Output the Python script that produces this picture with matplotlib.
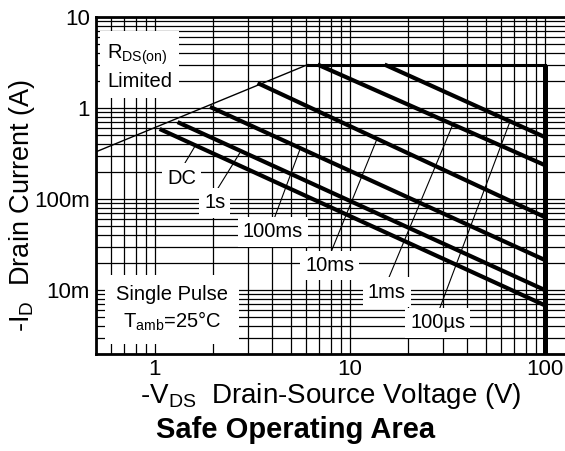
import numpy as np
import matplotlib
matplotlib.use("Agg")
import matplotlib.pyplot as plt
from matplotlib.ticker import FixedLocator, FixedFormatter, LogLocator, NullFormatter

plt.rcParams['font.family'] = ['Liberation Sans', 'DejaVu Sans']
plt.rcParams['mathtext.fontset'] = 'custom'
plt.rcParams['mathtext.rm'] = 'Liberation Sans'
plt.rcParams['mathtext.it'] = 'Liberation Sans:italic'
plt.rcParams['mathtext.bf'] = 'Liberation Sans:bold'
plt.rcParams['mathtext.default'] = 'regular'

# === Data ===
# R_DS(on) limit line (thin)
rds_v = [0.5, 6.1]
rds_i = [0.33, 3.0]

# Pulse-width curves: start point on the limit, end at V = 100 V
pulse_labels = ["DC", "1s", "100ms", "10ms", "1ms", "100µs"]
pulse_v_start = [1.06, 1.31, 1.92, 3.37, 6.85, 15.1]
pulse_i_start = [0.588, 0.70, 1.03, 1.88, 3.0, 3.0]
pulse_v_end = [100, 100, 100, 100, 100, 100]
pulse_i_end = [0.0068, 0.0100, 0.0214, 0.0634, 0.236, 0.48]

# Maximum current / voltage boundary
imax_v = [6.1, 100]
imax_i = [3.0, 3.0]
vmax_v = [100, 100]
vmax_i = [3.0, 0.002]

# Label positions and where the leader lines touch the curves
label_v = [1.375, 2.03, 4.03, 7.89, 15.5, 28.3]
label_i = [0.170, 0.0904, 0.0434, 0.0188, 0.0095, 0.00434]
leader_v = [1.60, 2.73, 5.54, 13.8, 33.7, 66.2]
leader_i = [0.373, 0.32, 0.345, 0.456, 0.65, 0.70]

xticks = [1, 10, 100]
xtick_labels = ["1", "10", "100"]
yticks = [0.01, 0.1, 1, 10]
ytick_labels = ["10m", "100m", "1", "10"]

# === Figure (pixel-matched layout) ===
W, H = 565, 451
fig = plt.figure(figsize=(W / 100, H / 100), dpi=100)
ax_left, ax_top, ax_bottom = 96, 17, 353.6
ax_width = 504
ax = fig.add_axes([ax_left / W, (H - ax_bottom) / H, ax_width / W, (ax_bottom - ax_top) / H])

ax.set_xscale('log')
ax.set_yscale('log')
ax.set_xlim(0.5, 0.5 * 10 ** (ax_width / 195))
ax.set_ylim(2e-3, 10)

# grid
ax.xaxis.set_major_locator(FixedLocator(xticks))
ax.xaxis.set_major_formatter(FixedFormatter(xtick_labels))
ax.yaxis.set_major_locator(FixedLocator(yticks))
ax.yaxis.set_major_formatter(FixedFormatter(ytick_labels))
ax.xaxis.set_minor_locator(LogLocator(base=10, subs=np.arange(2, 10), numticks=20))
ax.yaxis.set_minor_locator(LogLocator(base=10, subs=np.arange(2, 10), numticks=20))
ax.xaxis.set_minor_formatter(NullFormatter())
ax.yaxis.set_minor_formatter(NullFormatter())
ax.grid(True, which='both', color='black', linewidth=0.9)
ax.set_axisbelow(True)
ax.tick_params(which='both', length=0, labelsize=16)
ax.tick_params(axis='x', pad=4)
ax.tick_params(axis='y', pad=4.3)
for s in ax.spines.values():
    s.set_linewidth(2.0)

# curves
ax.plot(rds_v, rds_i, color='black', linewidth=1.0, zorder=3)
for vs, is_, ve, ie in zip(pulse_v_start, pulse_i_start, pulse_v_end, pulse_i_end):
    ax.plot([vs, ve], [is_, ie], color='black', linewidth=3.0, zorder=3,
            solid_capstyle='butt')
ax.plot(imax_v, imax_i, color='black', linewidth=2.2, zorder=3)
ax.plot(vmax_v, vmax_i, color='black', linewidth=3.6, zorder=3, solid_capstyle='butt')

box = dict(boxstyle='square,pad=0.25', fc='white', ec='none')
for lab, lv, li, tv, ti in zip(pulse_labels, label_v, label_i, leader_v, leader_i):
    ax.annotate(lab, xy=(tv, ti), xytext=(lv, li), ha='center', va='center',
                fontsize=14.5, bbox=box, zorder=4,
                arrowprops=dict(arrowstyle='-', lw=0.8, color='black',
                                shrinkA=0, shrinkB=0, relpos=(0.5, 1.0)))

ax.text(0.022, 0.925, "R$_{DS(on)}$\nLimited", transform=ax.transAxes,
        ha='left', va='top', fontsize=14.5, linespacing=1.35, zorder=4,
        bbox=dict(boxstyle='square,pad=0.35', fc='white', ec='none'))
ax.text(0.151, 0.205, "Single Pulse\nT$_{amb}$=25°C", transform=ax.transAxes,
        ha='center', va='top', multialignment='center', fontsize=14.5,
        linespacing=1.35, zorder=4,
        bbox=dict(boxstyle='square,pad=0.55', fc='white', ec='none'))

# axis labels and title
fig.text(331 / W, (H - 403) / H, "-V$_{DS}$  Drain-Source Voltage (V)",
         ha='center', va='baseline', fontsize=20)
fig.text(22 / W, 1 - 205 / H, "-I$_D$  Drain Current (A)", rotation=90,
         ha='center', va='center', fontsize=19.5)
fig.text(296 / W, (H - 438) / H, "Safe Operating Area", ha='center',
         va='baseline', fontsize=21, fontweight='bold')

fig.savefig('out.png', dpi=100)
